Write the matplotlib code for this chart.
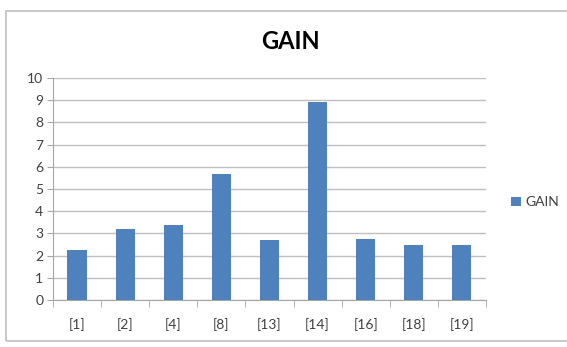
import numpy as np
import matplotlib
matplotlib.use('Agg')
import matplotlib.pyplot as plt
from matplotlib.patches import Rectangle

plt.rcParams['font.family'] = ['Lato', 'DejaVu Sans']

# Data
categories = ['[1]', '[2]', '[4]', '[8]', '[13]', '[14]', '[16]', '[18]', '[19]']
gain = [2.27, 3.2, 3.4, 5.68, 2.7, 8.92, 2.76, 2.5, 2.5]
yticks = [0, 1, 2, 3, 4, 5, 6, 7, 8, 9, 10]

bar_color = '#4F81BD'
grid_color = '#BFBFBF'
axis_color = '#A6A6A6'
text_color = '#404040'

fig = plt.figure(figsize=(5.67, 3.47), dpi=100)
ax = fig.add_axes([0.0935, 0.1354, 0.7635, 0.6396])

# outer chart border
fig.patches.append(Rectangle((6 / 567, 1 - 341 / 347), 1.2, 330 / 347,
                             transform=fig.transFigure, fill=False,
                             edgecolor='#BFBFBF', linewidth=1.2))

x = np.arange(len(categories))
ax.bar(x, gain, width=0.4, color=bar_color, label='GAIN', zorder=3)

ax.set_xlim(-0.5, len(categories) - 0.5)
ax.set_ylim(0, 10)
ax.set_yticks(yticks)
ax.set_xticks(x)
ax.set_xticklabels(categories)
ax.set_xticks(np.arange(-0.5, len(categories)), minor=True)

ax.yaxis.grid(True, color=grid_color, linewidth=1, zorder=0)
for s in ['top', 'right']:
    ax.spines[s].set_visible(False)
ax.spines['left'].set_color(axis_color)
ax.spines['bottom'].set_color(axis_color)

ax.tick_params(axis='x', which='major', length=0, pad=13, labelsize=10,
               labelcolor=text_color)
ax.tick_params(axis='x', which='minor', length=5, color=axis_color)
ax.tick_params(axis='y', length=4, color=axis_color, labelsize=10,
               labelcolor=text_color, pad=3)

fig.text(0.512, 0.88, 'GAIN', ha='center', va='center', fontsize=17,
         fontweight='bold', color='black')

ax.legend(loc='center left', bbox_to_anchor=(1.03, 0.44), frameon=False,
          fontsize=10, handlelength=0.7, handleheight=0.7, handletextpad=0.3,
          labelcolor=text_color)

fig.savefig('out.png', dpi=100)
